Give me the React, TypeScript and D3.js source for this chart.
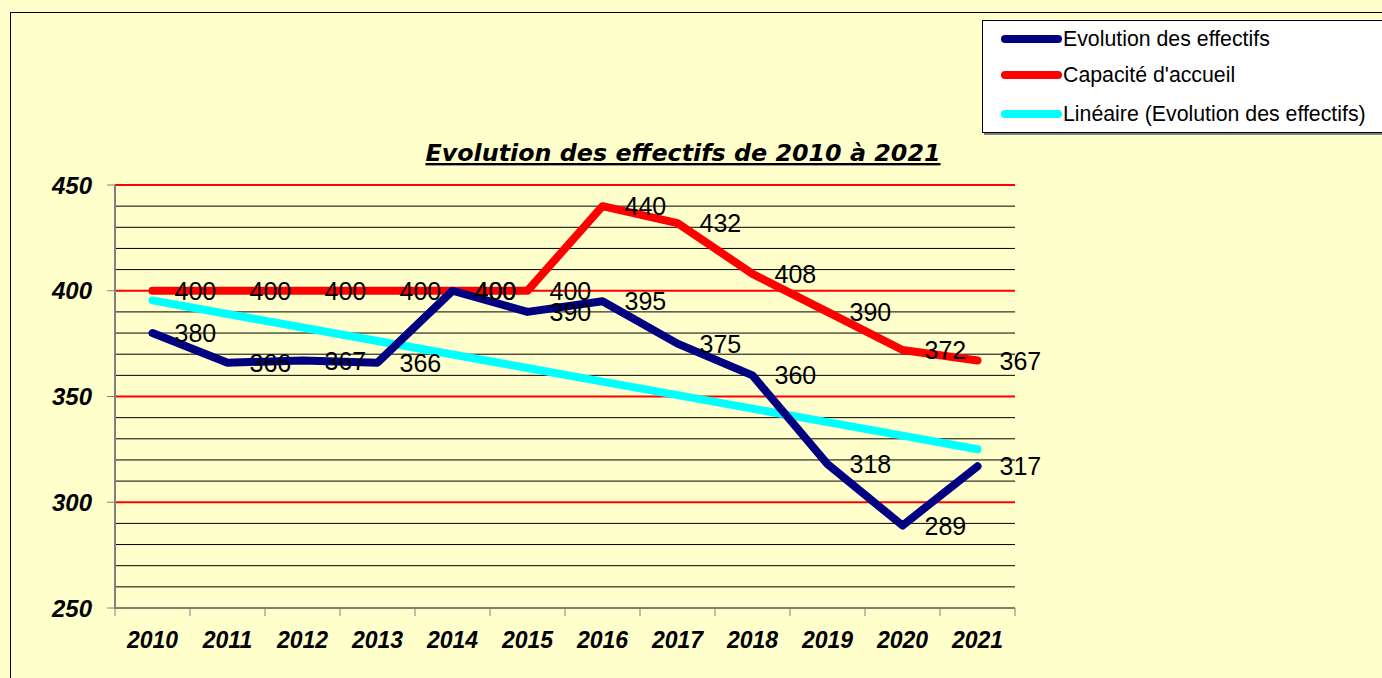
import React from 'react';
import * as d3 from 'd3';

const years = ['2010', '2011', '2012', '2013', '2014', '2015', '2016', '2017', '2018', '2019', '2020', '2021'];
const effectifs = [380, 366, 367, 366, 400, 390, 395, 375, 360, 318, 289, 317];
const capacite = [400, 400, 400, 400, 400, 400, 440, 432, 408, 390, 372, 367];
const yTicks = [250, 300, 350, 400, 450];
const legendLabels = ['Evolution des effectifs', "Capacité d'accueil", 'Linéaire (Evolution des effectifs)'];

const W = 1382;
const H = 678;
const BG = '#ffffcc';

// least squares trend over the effectifs series (Excel "Linéaire")
function trend(values: number[]) {
  const n = values.length;
  const mx = (n - 1) / 2;
  const my = d3.mean(values) as number;
  let sxy = 0;
  let sxx = 0;
  values.forEach((v, i) => {
    sxy += (i - mx) * (v - my);
    sxx += (i - mx) * (i - mx);
  });
  const slope = sxy / sxx;
  return values.map((_, i) => my + slope * (i - mx));
}

export default function App() {
  const x = d3.scaleBand().domain(years).range([115, 1015]);
  const y = d3.scaleLinear().domain([250, 450]).range([608, 185]);
  const cx = (i: number) => (x(years[i]) as number) + x.bandwidth() / 2;

  const line = d3.line<number>()
    .x((_, i) => cx(i))
    .y((d) => y(d));

  const grid = d3.range(260, 451, 10);
  const linear = trend(effectifs);
  const colors = ['#000080', '#ff0000', '#00ffff'];

  const labelStyle = { fontFamily: 'Liberation Sans, Arial, sans-serif', fontSize: 25, fill: '#000' };
  const axisStyle = { ...labelStyle, fontWeight: 'bold', fontStyle: 'italic' };

  return (
    <svg width={W} height={H} style={{ position: 'fixed', left: 0, top: 0 }}>
      <rect x={0} y={0} width={W} height={H} fill={BG} />
      <rect x={10.5} y={12.5} width={W + 20} height={H + 20} fill={BG} stroke="#000" strokeWidth={1} />

      {/* grid */}
      {grid.map((g) => (
        <line key={g} x1={115} x2={1015} y1={y(g)} y2={y(g)}
          stroke={g % 50 === 0 ? '#ff0000' : '#000'} strokeWidth={g % 50 === 0 ? 2 : 1} />
      ))}
      <line x1={115} x2={1015} y1={y(250)} y2={y(250)} stroke="#000" strokeWidth={1} />

      {/* axes */}
      <line x1={115} x2={115} y1={y(450)} y2={y(250) + 1} stroke="#808080" strokeWidth={2} />
      {yTicks.map((t) => (
        <g key={t}>
          <line x1={107} x2={115} y1={y(t)} y2={y(t)} stroke="#808080" strokeWidth={1} />
          <text x={92} y={y(t)} textAnchor="end" dominantBaseline="central"
            style={{ ...axisStyle, fontSize: 24 }}>{t}</text>
        </g>
      ))}
      {years.map((yr, i) => (
        <g key={yr}>
          <line x1={x(yr) as number} x2={x(yr) as number} y1={y(250)} y2={y(250) + 8} stroke="#808080" strokeWidth={1} />
          <text x={cx(i)} y={648} textAnchor="middle"
            style={{ ...axisStyle, fontSize: 23 }}>{yr}</text>
        </g>
      ))}
      <line x1={1015} x2={1015} y1={y(250)} y2={y(250) + 8} stroke="#808080" strokeWidth={1} />

      {/* series */}
      <path d={line(linear) as string} fill="none" stroke={colors[2]} strokeWidth={8} strokeLinecap="round" />
      <path d={line(capacite) as string} fill="none" stroke={colors[1]} strokeWidth={8} strokeLinecap="round" strokeLinejoin="round" />
      <path d={line(effectifs) as string} fill="none" stroke={colors[0]} strokeWidth={8} strokeLinecap="round" strokeLinejoin="round" />

      {/* data labels */}
      {capacite.map((v, i) => (
        <text key={'c' + i} x={cx(i) + 22} y={y(v)} dominantBaseline="central" style={labelStyle}>{v}</text>
      ))}
      {effectifs.map((v, i) => (
        <text key={'e' + i} x={cx(i) + 22} y={y(v)} dominantBaseline="central" style={labelStyle}>{v}</text>
      ))}

      {/* title */}
      <text x={683} y={161} textAnchor="middle"
        style={{ fontFamily: 'DejaVu Sans, Verdana, sans-serif', fontSize: 23.8, fontWeight: 'bold', fontStyle: 'italic', fill: '#000', textDecoration: 'underline' }}>
        Evolution des effectifs de 2010 à 2021
      </text>

      {/* legend */}
      <rect x={984} y={22} width={W} height={113} fill="#808080" />
      <rect x={982.5} y={20.5} width={W} height={112} fill="#fff" stroke="#000" strokeWidth={1} />
      {legendLabels.map((l, i) => {
        const ly = [39, 75, 114][i];
        return (
          <g key={l}>
            <line x1={1005} x2={1058} y1={ly} y2={ly} stroke={colors[i]} strokeWidth={8} strokeLinecap="round" />
            <text x={1063} y={ly} dominantBaseline="central"
              style={{ fontFamily: 'Liberation Sans, Arial, sans-serif', fontSize: 21.3, fill: '#000' }}>{l}</text>
          </g>
        );
      })}
    </svg>
  );
}
